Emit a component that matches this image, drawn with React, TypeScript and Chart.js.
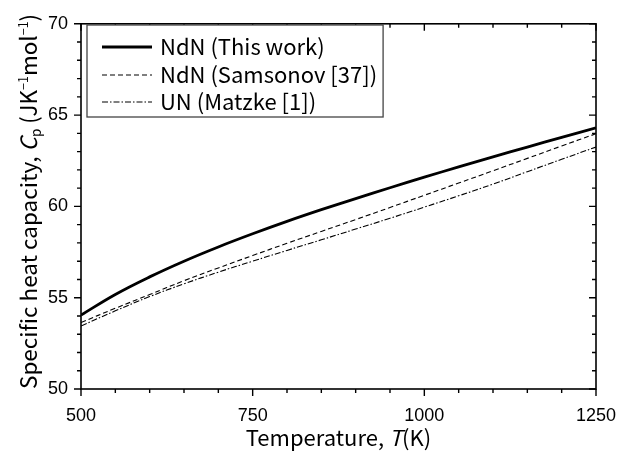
import React, { useEffect, useRef } from "react";
import { Chart, registerables } from "chart.js";

Chart.register(...registerables);

// Temperature (K)
const temperatures = [500, 550, 600, 650, 700, 750, 800, 850, 900, 950, 1000, 1050, 1100, 1150, 1200, 1250];
// NdN (This work)
const ndnThisWork = [54.05, 55.18, 56.14, 57.0, 57.78, 58.5, 59.18, 59.82, 60.43, 61.02, 61.6, 62.16, 62.71, 63.25, 63.78, 64.3];
// NdN (Samsonov [37])
const ndnSamsonov = [53.64, 54.42, 55.17, 55.93, 56.63, 57.31, 57.98, 58.63, 59.28, 59.94, 60.61, 61.28, 61.95, 62.63, 63.31, 63.98];
// UN (Matzke [1])
const unMatzke = [53.45, 54.28, 55.06, 55.76, 56.4, 57.0, 57.59, 58.17, 58.76, 59.35, 59.96, 60.58, 61.22, 61.9, 62.58, 63.25];

const seriesLabels = ["NdN (This work)", "NdN (Samsonov [37])", "UN (Matzke [1])"];
const xMajorTicks = [500, 750, 1000, 1250];
const yMajorTicks = [50, 55, 60, 65, 70];

const FONT = "'Noto Sans CJK JP', 'Noto Sans', sans-serif";
const TICK_FONT = "'Liberation Sans', Arial, sans-serif";

type Seg = { t: string; italic?: boolean; size: number; dy?: number };

function segFont(s: Seg) {
  return `${s.italic ? "italic " : ""}${s.size}px ${FONT}`;
}

function drawRich(ctx: CanvasRenderingContext2D, segs: Seg[], cx: number, cy: number) {
  let total = 0;
  for (const s of segs) {
    ctx.font = segFont(s);
    total += ctx.measureText(s.t).width;
  }
  let x = cx - total / 2;
  ctx.textBaseline = "alphabetic";
  ctx.textAlign = "left";
  for (const s of segs) {
    ctx.font = segFont(s);
    ctx.fillText(s.t, x, cy + (s.dy || 0));
    x += ctx.measureText(s.t).width;
  }
}

const framePlugin = {
  id: "framePlugin",
  afterDraw(chart: any) {
    const ctx: CanvasRenderingContext2D = chart.ctx;
    const xs = chart.scales.x;
    const ys = chart.scales.y;
    const { left, right, top, bottom } = chart.chartArea;
    ctx.save();
    ctx.strokeStyle = "#000";
    ctx.lineWidth = 1.6;
    ctx.strokeRect(left, top, right - left, bottom - top);
    ctx.lineWidth = 1.4;
    for (let v = xs.min; v <= xs.max + 0.001; v += 50) {
      const px = xs.getPixelForValue(v);
      const major = Math.abs((v - 500) % 250) < 0.001;
      const len = major ? 7 : 4;
      ctx.beginPath();
      ctx.moveTo(px, bottom);
      ctx.lineTo(px, bottom + len);
      ctx.moveTo(px, top);
      ctx.lineTo(px, top + len);
      ctx.stroke();
    }
    for (let v = ys.min; v <= ys.max + 0.001; v += 1) {
      const py = ys.getPixelForValue(v);
      const major = Math.abs(v % 5) < 0.001;
      const len = major ? 7 : 4;
      ctx.beginPath();
      ctx.moveTo(left, py);
      ctx.lineTo(left - len, py);
      ctx.moveTo(right, py);
      ctx.lineTo(right - len, py);
      ctx.stroke();
    }
    ctx.fillStyle = "#000";
    // x title
    drawRich(
      ctx,
      [
        { t: "Temperature, ", size: 22 },
        { t: "T", italic: true, size: 22 },
        { t: "(K)", size: 22 },
      ],
      (left + right) / 2,
      446
    );
    // y title
    ctx.save();
    ctx.translate(37, (top + bottom) / 2 - 5);
    ctx.rotate(-Math.PI / 2);
    drawRich(
      ctx,
      [
        { t: "Specific heat capacity, ", size: 22.5 },
        { t: "C", italic: true, size: 22.5 },
        { t: "p", size: 13.5, dy: 4 },
        { t: " (JK", size: 22.5 },
        { t: "−1", size: 12.5, dy: -9 },
        { t: "mol", size: 22.5 },
        { t: "−1", size: 12.5, dy: -9 },
        { t: ")", size: 22.5 },
      ],
      0,
      0
    );
    ctx.restore();

    // legend
    const legendFont = `22px ${FONT}`;
    ctx.font = legendFont;
    let maxW = 0;
    chart.data.datasets.forEach((ds: any) => {
      maxW = Math.max(maxW, ctx.measureText(ds.label).width);
    });
    const textX = 160;
    const lx = 87, ly = 25, lh = 92;
    const lw = textX + maxW + 6 - lx;
    ctx.fillStyle = "#fff";
    ctx.fillRect(lx, ly, lw, lh);
    ctx.strokeStyle = "#444";
    ctx.lineWidth = 1.3;
    ctx.strokeRect(lx, ly, lw, lh);
    const rows = [47, 75, 102];
    chart.data.datasets.forEach((ds: any, i: number) => {
      const y = rows[i];
      ctx.strokeStyle = "#000";
      ctx.lineWidth = ds.borderWidth;
      ctx.setLineDash(ds.borderDash || []);
      ctx.beginPath();
      ctx.moveTo(102, y);
      ctx.lineTo(152, y);
      ctx.stroke();
      ctx.setLineDash([]);
      ctx.fillStyle = "#000";
      ctx.font = legendFont;
      ctx.textAlign = "left";
      ctx.textBaseline = "middle";
      ctx.fillText(ds.label, textX, y);
    });
    ctx.restore();
  },
};

export default function App() {
  const ref = useRef<HTMLCanvasElement>(null);
  useEffect(() => {
    if (!ref.current) return;
    const mk = (arr: number[]) => temperatures.map((t, i) => ({ x: t, y: arr[i] }));
    const chart = new Chart(ref.current, {
      type: "line",
      data: {
        datasets: [
          { label: seriesLabels[0], data: mk(ndnThisWork), borderColor: "#000", borderWidth: 2.8, pointRadius: 0, tension: 0.4, fill: false },
          { label: seriesLabels[1], data: mk(ndnSamsonov), borderColor: "#000", borderWidth: 1.1, borderDash: [5, 3], pointRadius: 0, tension: 0.4, fill: false },
          { label: seriesLabels[2], data: mk(unMatzke), borderColor: "#000", borderWidth: 1.1, borderDash: [6, 2, 1.5, 2], pointRadius: 0, tension: 0.4, fill: false },
        ],
      },
      options: {
        responsive: false,
        animation: false,
        layout: { padding: { left: 0, right: 38, top: 10, bottom: 0 } },
        plugins: { legend: { display: false }, tooltip: { enabled: false } },
        scales: {
          x: {
            type: "linear",
            min: 500,
            max: 1250,
            grid: { display: false, drawTicks: false },
            border: { display: false },
            afterFit: (s: any) => { s.height = 66; },
            afterBuildTicks: (s: any) => { s.ticks = xMajorTicks.map((v) => ({ value: v })); },
            ticks: { color: "#000", font: { family: TICK_FONT, size: 18 }, padding: 16, maxRotation: 0, callback: (v: any) => String(v) },
          },
          y: {
            type: "linear",
            min: 50,
            max: 70,
            grid: { display: false, drawTicks: false },
            border: { display: false },
            afterFit: (s: any) => { s.width = 81; },
            afterBuildTicks: (s: any) => { s.ticks = yMajorTicks.map((v) => ({ value: v })); },
            ticks: { color: "#000", font: { family: TICK_FONT, size: 18 }, padding: 13, callback: (v: any) => String(v) },
          },
        },
      },
      plugins: [framePlugin],
    });
    return () => chart.destroy();
  }, []);
  return (
    <div style={{ position: "fixed", left: 0, top: 0, width: 634, height: 455, background: "#fff" }}>
      <canvas ref={ref} width={634} height={455} style={{ display: "block" }} />
    </div>
  );
}
